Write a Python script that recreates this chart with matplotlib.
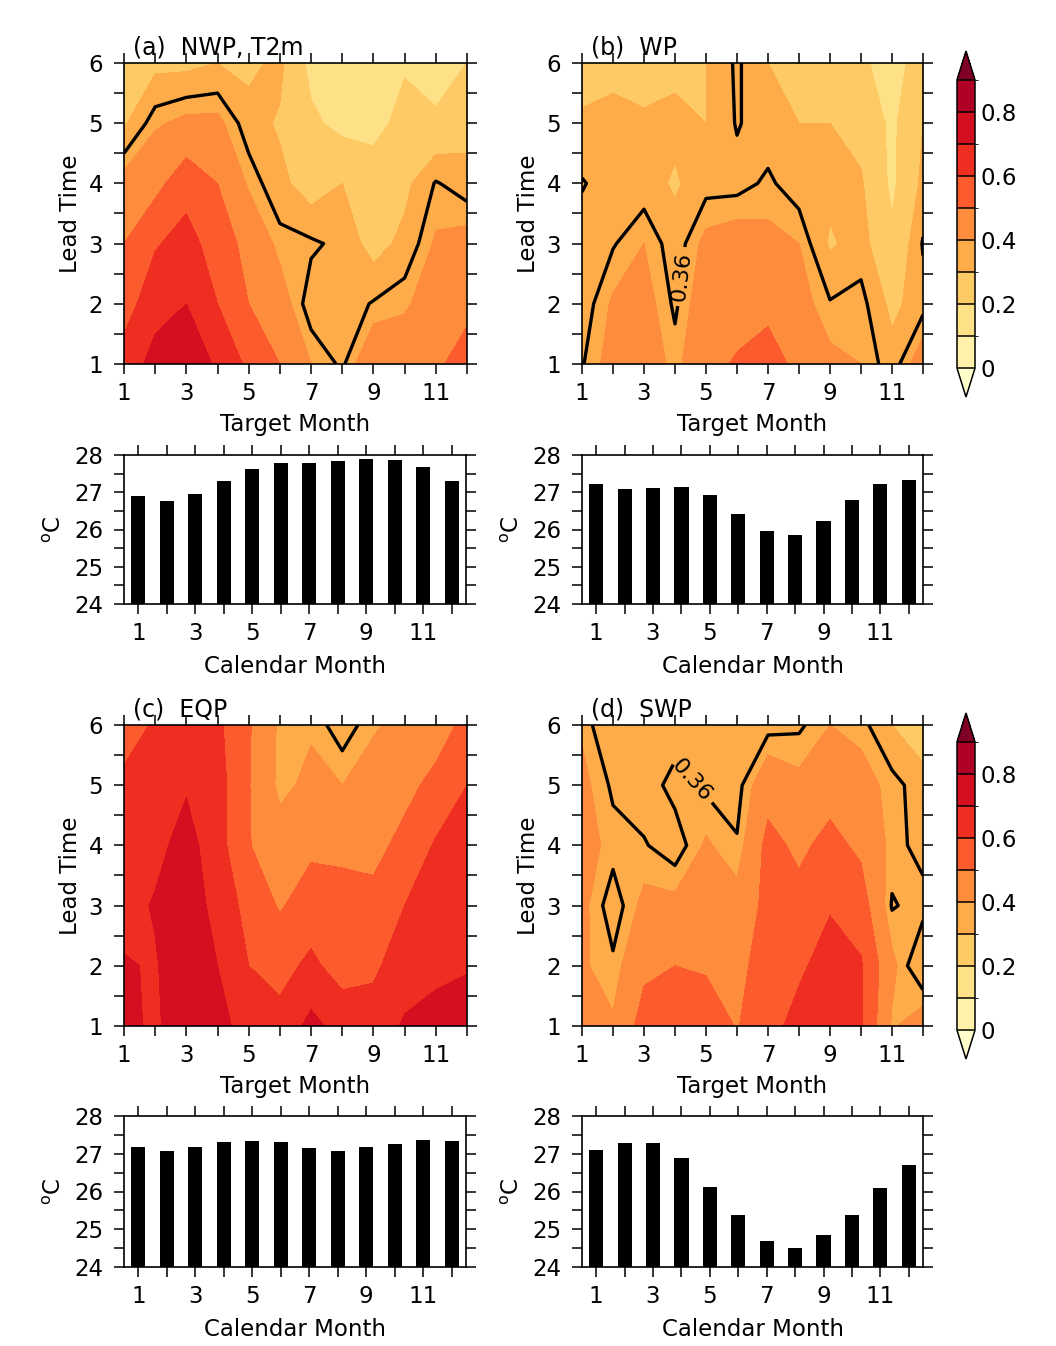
import numpy as np
import matplotlib.pyplot as plt
from matplotlib.colors import ListedColormap, BoundaryNorm

plt.rcParams['font.family'] = 'DejaVu Sans'

months = np.arange(1, 13)
leads = np.arange(1, 7)

# correlation skill, rows = lead time 1..6, columns = target month 1..12
nwp_acc = [
    [0.65, 0.73, 0.79, 0.68, 0.58, 0.50, 0.40, 0.35, 0.47, 0.45, 0.48, 0.55],
    [0.55, 0.67, 0.70, 0.60, 0.50, 0.44, 0.33, 0.33, 0.365, 0.39, 0.44, 0.47],
    [0.50, 0.59, 0.64, 0.55, 0.47, 0.38, 0.37, 0.345, 0.27, 0.32, 0.41, 0.43],
    [0.43, 0.47, 0.56, 0.50, 0.39, 0.32, 0.26, 0.30, 0.25, 0.28, 0.365, 0.33],
    [0.29, 0.39, 0.42, 0.42, 0.33, 0.29, 0.22, 0.17, 0.17, 0.23, 0.23, 0.27],
    [0.25, 0.28, 0.28, 0.30, 0.28, 0.32, 0.17, 0.13, 0.15, 0.19, 0.12, 0.20],
]
wp_acc = [
    [0.355, 0.43, 0.45, 0.38, 0.47, 0.51, 0.55, 0.47, 0.42, 0.40, 0.33, 0.45],
    [0.33, 0.41, 0.43, 0.35, 0.45, 0.46, 0.47, 0.43, 0.365, 0.38, 0.28, 0.34],
    [0.33, 0.355, 0.40, 0.33, 0.42, 0.44, 0.42, 0.40, 0.29, 0.33, 0.22, 0.365],
    [0.365, 0.33, 0.33, 0.29, 0.34, 0.34, 0.37, 0.33, 0.32, 0.31, 0.18, 0.32],
    [0.31, 0.33, 0.31, 0.32, 0.30, 0.365, 0.33, 0.30, 0.30, 0.27, 0.18, 0.30],
    [0.27, 0.27, 0.27, 0.28, 0.30, 0.37, 0.30, 0.27, 0.26, 0.22, 0.15, 0.26],
]
eqp_acc = [
    [0.73, 0.68, 0.78, 0.74, 0.65, 0.63, 0.73, 0.66, 0.65, 0.71, 0.73, 0.76],
    [0.71, 0.69, 0.78, 0.70, 0.60, 0.57, 0.62, 0.56, 0.58, 0.66, 0.68, 0.69],
    [0.66, 0.71, 0.77, 0.66, 0.57, 0.49, 0.55, 0.55, 0.53, 0.60, 0.65, 0.66],
    [0.64, 0.67, 0.74, 0.64, 0.505, 0.44, 0.48, 0.47, 0.47, 0.53, 0.61, 0.63],
    [0.62, 0.64, 0.69, 0.64, 0.505, 0.38, 0.42, 0.40, 0.44, 0.47, 0.53, 0.60],
    [0.56, 0.61, 0.64, 0.62, 0.51, 0.385, 0.39, 0.33, 0.39, 0.43, 0.45, 0.53],
]
swp_acc = [
    [0.42, 0.41, 0.54, 0.52, 0.55, 0.495, 0.56, 0.64, 0.68, 0.61, 0.39, 0.45],
    [0.41, 0.37, 0.48, 0.50, 0.49, 0.47, 0.55, 0.58, 0.65, 0.61, 0.42, 0.30],
    [0.42, 0.33, 0.42, 0.42, 0.45, 0.43, 0.53, 0.53, 0.59, 0.55, 0.355, 0.38],
    [0.43, 0.38, 0.365, 0.33, 0.41, 0.365, 0.53, 0.48, 0.53, 0.48, 0.38, 0.34],
    [0.42, 0.35, 0.33, 0.38, 0.35, 0.34, 0.46, 0.42, 0.46, 0.43, 0.38, 0.33],
    [0.39, 0.30, 0.30, 0.33, 0.32, 0.33, 0.34, 0.35, 0.40, 0.38, 0.30, 0.25],
]

# climatological temperature per calendar month (deg C)
nwp_clim = [26.90, 26.76, 26.96, 27.30, 27.63, 27.79, 27.78, 27.84, 27.90, 27.86, 27.67, 27.30]
wp_clim = [27.21, 27.10, 27.11, 27.14, 26.92, 26.41, 25.96, 25.86, 26.24, 26.79, 27.21, 27.33]
eqp_clim = [27.18, 27.08, 27.18, 27.31, 27.35, 27.30, 27.15, 27.08, 27.17, 27.26, 27.36, 27.34]
swp_clim = [27.11, 27.29, 27.29, 26.89, 26.12, 25.39, 24.70, 24.51, 24.84, 25.38, 26.08, 26.71]

titles = ['(a)  NWP, T2m', '(b)  WP', '(c)  EQP', '(d)  SWP']
bounds = np.round(np.arange(0, 0.91, 0.1), 2)
threshold = 0.36

W, H = 1056, 1346
FS = 16.5

colors = plt.get_cmap('YlOrRd')(np.linspace(0, 1, 11))
cmap = ListedColormap(colors[1:-1])
cmap.set_under(colors[0])
cmap.set_over(colors[-1])
norm = BoundaryNorm(bounds, cmap.N)


def px_rect(left, top, right, bottom):
    return [left / W, 1 - bottom / H, (right - left) / W, (bottom - top) / H]


def month_labels():
    return [str(m) if m % 2 == 1 else '' for m in months]


def style_axes(ax):
    for s in ax.spines.values():
        s.set_linewidth(1.2)
    ax.tick_params(which='both', direction='out', top=True, right=True,
                   length=7, width=1.1, labelsize=FS, pad=6)
    ax.tick_params(axis='y', pad=8)


def draw_contour(ax, data, title, label_pos=None):
    z = np.array(data)
    cs = ax.contourf(months, leads, z, levels=bounds, cmap=cmap, norm=norm,
                     extend='both')
    line = ax.contour(months, leads, z, levels=[threshold], colors='k',
                      linewidths=2.4)
    if label_pos is not None:
        ax.clabel(line, fmt='%.2f', manual=[label_pos], inline=True,
                  fontsize=16)
    ax.set_xlim(1, 12)
    ax.set_ylim(1, 6)
    ax.set_xticks(months)
    ax.set_xticklabels(month_labels())
    ax.set_yticks(leads)
    ax.set_yticks(np.arange(1.5, 6, 1), minor=True)
    style_axes(ax)
    ax.set_xlabel('Target Month', fontsize=FS, labelpad=6)
    ax.set_ylabel('Lead Time', fontsize=FS, labelpad=5)
    ax.text(9 / 343, 1 + 8 / 301, title, transform=ax.transAxes,
            fontsize=17, va='baseline', ha='left')
    return cs


def draw_bars(ax, clim):
    ax.bar(months, clim, width=0.5, color='black')
    ax.set_xlim(0.5, 12.5)
    ax.set_ylim(24, 28)
    ax.set_xticks(months)
    ax.set_xticklabels(month_labels())
    ax.set_yticks(np.arange(24, 29))
    ax.set_yticks(np.arange(24.5, 28, 1), minor=True)
    style_axes(ax)
    ax.set_xlabel('Calendar Month', fontsize=FS, labelpad=7)
    ax.set_ylabel('$\\mathregular{^o}$C', fontsize=FS, labelpad=6)


def draw_colorbar(fig, cs, rect):
    cax = fig.add_axes(rect)
    cb = fig.colorbar(cs, cax=cax, orientation='vertical', extend='both',
                      extendfrac=0.1, drawedges=True, ticks=bounds[::2])
    cb.set_ticklabels(['0', '0.2', '0.4', '0.6', '0.8'])
    cb.outline.set_linewidth(1.1)
    cb.dividers.set_linewidth(1.1)
    cax.tick_params(length=0, labelsize=FS, pad=4)


fig = plt.figure(figsize=(W / 100, H / 100), dpi=100)

ax_a = fig.add_axes(px_rect(124, 63, 467, 364))
cs_a = draw_contour(ax_a, nwp_acc, titles[0])
ax_b = fig.add_axes(px_rect(582, 63, 923, 364))
draw_contour(ax_b, wp_acc, titles[1], label_pos=(4.25, 2.45))
ax_c = fig.add_axes(px_rect(124, 725, 467, 1026))
cs_c = draw_contour(ax_c, eqp_acc, titles[2])
ax_d = fig.add_axes(px_rect(582, 725, 923, 1026))
draw_contour(ax_d, swp_acc, titles[3], label_pos=(4.6, 5.1))

draw_bars(fig.add_axes(px_rect(124, 455, 466, 604)), nwp_clim)
draw_bars(fig.add_axes(px_rect(582, 455, 923, 604)), wp_clim)
draw_bars(fig.add_axes(px_rect(124, 1116, 466, 1267)), eqp_clim)
draw_bars(fig.add_axes(px_rect(582, 1116, 923, 1267)), swp_clim)

draw_colorbar(fig, cs_a, px_rect(957, 51, 975, 397))
draw_colorbar(fig, cs_c, px_rect(957, 713, 975, 1059))

fig.savefig('out.png', dpi=100)
